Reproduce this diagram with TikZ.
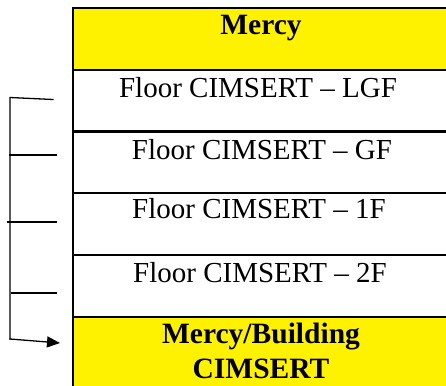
\documentclass[tikz,border=0pt]{standalone}
\usepackage{fontspec}
\setmainfont{Liberation Serif}
\usetikzlibrary{arrows.meta}
\begin{document}
\begin{tikzpicture}[x=1pt,y=-1pt,
  cell/.style={draw=black,line width=2pt,minimum width=380pt,minimum height=62pt,inner sep=0pt,anchor=north west},
  hdr/.style={cell,fill=yellow,minimum height=62pt},
  txt/.style={anchor=base,inner sep=0pt,font=\fontsize{29}{35}\selectfont,align=center},
  btxt/.style={txt,font=\fontsize{29.5}{35}\selectfont\bfseries},
  link/.style={line width=1.3pt,line cap=rect}]
\useasboundingbox (0,0) rectangle (446,385);
\begin{scope}
\clip (0,0) rectangle (446,385);
\node[hdr] (mercy) at (72,7) {};
\node[cell] (lgf) at (72,69) {};
\node[cell] (gf) at (72,130) {};
\node[cell] (f1) at (72,192) {};
\node[cell] (f2) at (72,254) {};
\node[hdr,minimum height=90pt] (bld) at (72,316) {};
\end{scope}
\node[btxt] (tmercy) at (261,35) {Mercy};
\node[txt] (tlgf) at (258,97) {Floor CIMSERT -- LGF};
\node[txt] (tgf) at (262,159) {Floor CIMSERT -- GF};
\node[txt] (tf1) at (259,218) {Floor CIMSERT -- 1F};
\node[txt] (tf2) at (260,282) {Floor CIMSERT -- 2F};
\node[btxt] (tbld) at (261,378) {Mercy/Building\\CIMSERT};
% bracket
\coordinate (a0) at (10,97.5);
\coordinate (a1) at (53,99.5);
\coordinate (b0) at (10,155);
\coordinate (b1) at (56,155);
\coordinate (c0) at (8,222);
\coordinate (c1) at (56,222);
\coordinate (d0) at (12,293);
\coordinate (d1) at (56,293);
\coordinate (e0) at (10,339);
\coordinate (e1) at (60,343);
\draw[link] (a1) -- (a0) -- (e0);
\draw[link] (b0) -- (b1);
\draw[link] (c0) -- (c1);
\draw[link] (d0) -- (d1);
\draw[link,-{Triangle[length=13pt,width=11pt]}] (e0) -- (e1);
\end{tikzpicture}
\end{document}
